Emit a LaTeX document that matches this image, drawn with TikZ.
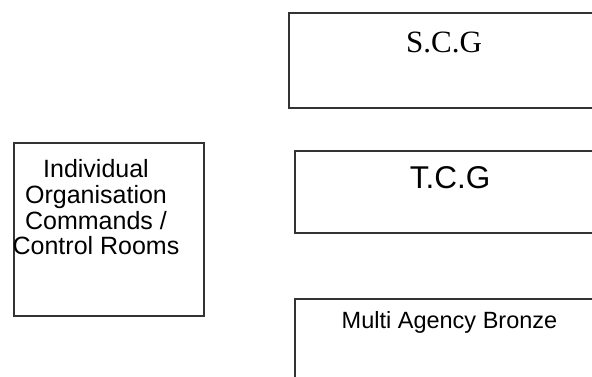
\documentclass[tikz,border=0pt]{standalone}
\usepackage{fontspec}
\setmainfont{Liberation Serif}
\setsansfont{Liberation Sans}
\begin{document}
\begin{tikzpicture}[x=1pt, y=-1pt,
        box/.style={rectangle, draw=black!80, line width=1.6pt, anchor=north west, inner sep=0pt},
        title/.style={anchor=base, inner sep=0pt, font=\sffamily\fontsize{31.5}{36}\selectfont},
        small/.style={anchor=base, inner sep=0pt, font=\sffamily\fontsize{23.5}{28}\selectfont}
    ]
        \useasboundingbox (0,0) rectangle (592,376);

        \node[box, minimum width=320pt, minimum height=95pt] (scg) at (288,12) {};
        \node[box, minimum width=320pt, minimum height=82pt] (tcg) at (294,150) {};
        \node[box, minimum width=320pt, minimum height=100pt] (bronze) at (294,298) {};
        \node[box, minimum width=190pt, minimum height=173pt] (orgs) at (13,142) {};

        \node[anchor=base, inner sep=0pt, font=\rmfamily\fontsize{31}{36}\selectfont] (scgtext) at (444,52) {S.C.G};
        \node[title] (tcgtext) at (450,188.5) {T.C.G};
        \node[small] (bronzetext) at (449.5,328.5) {Multi Agency Bronze};
        \node[anchor=north, inner sep=0pt, align=center, font=\sffamily\fontsize{25}{25.6}\selectfont] (orgstext) at (96,159.5)
            {Individual\\Organisation\\Commands /\\Control Rooms};
    \end{tikzpicture}
\end{document}
